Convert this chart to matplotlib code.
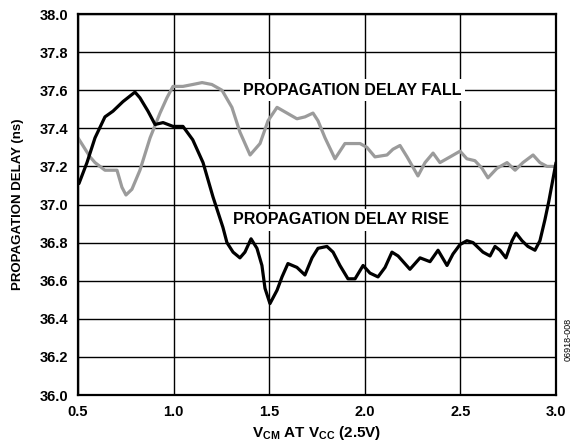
import matplotlib
matplotlib.use("Agg")
import matplotlib.pyplot as plt

# (x: V_CM in V, y: delay in ns)
fall_x = [0.50, 0.563, 0.589, 0.641, 0.704, 0.73, 0.751, 0.782, 0.824, 0.877, 0.929,
          0.965, 0.997, 1.049, 1.10, 1.149, 1.20, 1.253, 1.305, 1.347, 1.40, 1.452,
          1.494, 1.541, 1.593, 1.645, 1.687, 1.729, 1.755, 1.792, 1.844, 1.896, 1.975,
          2.011, 2.053, 2.116, 2.147, 2.184, 2.221, 2.278, 2.315, 2.357, 2.393, 2.446,
          2.498, 2.534, 2.576, 2.613, 2.644, 2.691, 2.744, 2.786, 2.827, 2.880, 2.916,
          2.953, 2.995]
fall_y = [37.35, 37.25, 37.22, 37.18, 37.18, 37.09, 37.05, 37.08, 37.18, 37.35, 37.48,
          37.56, 37.62, 37.62, 37.63, 37.64, 37.63, 37.60, 37.51, 37.38, 37.26, 37.32,
          37.44, 37.51, 37.48, 37.45, 37.46, 37.48, 37.44, 37.35, 37.24, 37.32, 37.32,
          37.30, 37.25, 37.26, 37.29, 37.31, 37.25, 37.15, 37.22, 37.27, 37.22, 37.25,
          37.28, 37.24, 37.23, 37.19, 37.14, 37.19, 37.22, 37.18, 37.22, 37.26, 37.22,
          37.20, 37.20]

rise_x = [0.505, 0.547, 0.589, 0.641, 0.683, 0.735, 0.798, 0.824, 0.866, 0.903, 0.945,
          0.997, 1.049, 1.10, 1.154, 1.206, 1.258, 1.279, 1.311, 1.347, 1.373, 1.405,
          1.436, 1.462, 1.478, 1.504, 1.541, 1.567, 1.598, 1.645, 1.687, 1.724, 1.755,
          1.802, 1.834, 1.870, 1.912, 1.949, 1.991, 2.027, 2.069, 2.106, 2.142, 2.174,
          2.236, 2.289, 2.341, 2.383, 2.430, 2.461, 2.498, 2.534, 2.566, 2.618, 2.655,
          2.681, 2.707, 2.738, 2.770, 2.791, 2.822, 2.853, 2.890, 2.916, 2.942, 2.963,
          3.0]
rise_y = [37.11, 37.22, 37.35, 37.46, 37.49, 37.54, 37.59, 37.56, 37.49, 37.42, 37.43,
          37.41, 37.41, 37.34, 37.22, 37.04, 36.88, 36.80, 36.75, 36.72, 36.75, 36.82,
          36.77, 36.68, 36.56, 36.48, 36.55, 36.62, 36.69, 36.67, 36.63, 36.72, 36.77,
          36.78, 36.75, 36.68, 36.61, 36.61, 36.68, 36.64, 36.62, 36.67, 36.75, 36.73,
          36.66, 36.72, 36.70, 36.76, 36.68, 36.74, 36.79, 36.81, 36.80, 36.75, 36.73,
          36.78, 36.76, 36.72, 36.81, 36.85, 36.81, 36.78, 36.76, 36.81, 36.92, 37.02,
          37.22]

x_ticks = [0.5, 1.0, 1.5, 2.0, 2.5, 3.0]
y_ticks = [36.0, 36.2, 36.4, 36.6, 36.8, 37.0, 37.2, 37.4, 37.6, 37.8, 38.0]

plt.rcParams["font.family"] = ["Liberation Sans", "DejaVu Sans"]
plt.rcParams["font.weight"] = "bold"
plt.rcParams["mathtext.fontset"] = "custom"
plt.rcParams["mathtext.rm"] = "Liberation Sans:bold"
plt.rcParams["mathtext.it"] = "Liberation Sans:bold"
plt.rcParams["mathtext.bf"] = "Liberation Sans:bold"
plt.rcParams["mathtext.default"] = "rm"

fig = plt.figure(figsize=(5.76, 4.46), dpi=100)
ax = fig.add_axes([0.1354, 0.1143, 0.8299, 0.8543])

ax.plot(fall_x, fall_y, color="#9b9b9b", lw=2.3, solid_capstyle="round",
        solid_joinstyle="round", zorder=3)
ax.plot(rise_x, rise_y, color="black", lw=2.3, solid_capstyle="round",
        solid_joinstyle="round", zorder=4)

ax.set_xlim(0.5, 3.0)
ax.set_ylim(36.0, 38.0)
ax.set_xticks(x_ticks)
ax.set_yticks(y_ticks)
ax.set_xticklabels([f"{v:.1f}" for v in x_ticks])
ax.set_yticklabels([f"{v:.1f}" for v in y_ticks])
ax.tick_params(length=0, labelsize=10.5, pad=7)
ax.grid(True, color="black", lw=1.0, zorder=1)
ax.set_axisbelow(True)
for s in ax.spines.values():
    s.set_linewidth(1.6)
    s.set_zorder(5)

box = dict(facecolor="white", edgecolor="none", pad=2.5)
ax.text(1.935, 37.6, "PROPAGATION DELAY FALL", ha="center", va="center",
        fontsize=11.5, fontweight="bold", bbox=box, zorder=2)
ax.text(1.878, 36.92, "PROPAGATION DELAY RISE", ha="center", va="center",
        fontsize=11.5, fontweight="bold", bbox=box, zorder=2)

ax.set_ylabel("PROPAGATION DELAY (ns)", fontsize=9.5, fontweight="bold", labelpad=11)
ax.set_xlabel(r"V$_{CM}$ AT V$_{CC}$ (2.5V)", fontsize=11, fontweight="bold",
              labelpad=4)

fig.text(0.986, 0.24, "06918-008", rotation=90, fontsize=6.5, fontweight="normal",
         ha="center", va="center")

fig.savefig("out.png", dpi=100)
